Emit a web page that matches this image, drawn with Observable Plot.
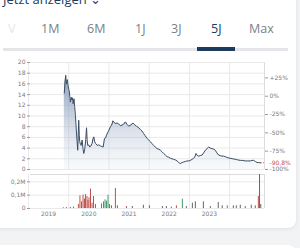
<!DOCTYPE html>
<html><head><meta charset="utf-8">
<script src="https://cdn.jsdelivr.net/npm/d3@7"></script>
<script src="https://cdn.jsdelivr.net/npm/@observablehq/plot@0.6"></script>
<style>
html,body{margin:0;padding:0;width:300px;height:248px;overflow:hidden;background:#f2f3f5;font-family:"Open Sans",sans-serif;}
#card{position:absolute;left:-10px;top:-10px;width:306px;height:238px;background:#fff;border-radius:8px;box-shadow:0 1px 4px rgba(0,0,0,0.08);}
#card2{position:absolute;left:-10px;top:245px;width:306px;height:40px;background:#fff;border-radius:8px;}
#head{position:absolute;left:3px;top:-10px;font-size:13px;color:#1d3a5f;white-space:nowrap;}
.tab{position:absolute;top:20px;font-size:12.5px;color:#7b8089;white-space:nowrap;}
#bar{position:absolute;left:3px;top:48px;width:285px;height:2.5px;background:#e3e5e8;}
#sel{position:absolute;left:197px;top:47px;width:38px;height:4px;background:#1d3a5f;}
#p1{position:absolute;left:0;top:55px;}
#p2{position:absolute;left:0;top:170px;}
svg{display:block;}
</style></head>
<body>
<div id="card"></div><div id="card2"></div>
<div id="head">Jetzt anzeigen ⌄</div>
<div id="tabs"></div>
<div id="bar"></div><div id="sel"></div>
<div id="p1"></div><div id="p2"></div>
<script>
// ---- tabs ----
const tabLabels = ["V","1M","6M","1J","3J","5J","Max"];
const tabSelected = "5J";
// ---- price series ----
const priceDates = ["2019-11-22","2019-11-28","2019-12-05","2019-12-09","2019-12-12","2019-12-19","2019-12-27","2020-01-03","2020-01-07","2020-01-12","2020-01-16","2020-01-24","2020-01-31","2020-02-05","2020-02-10","2020-02-18","2020-02-24","2020-03-02","2020-03-11","2020-03-17","2020-03-23","2020-03-28","2020-04-01","2020-04-06","2020-04-10","2020-04-17","2020-04-23","2020-05-02","2020-05-10","2020-05-17","2020-05-26","2020-06-04","2020-06-11","2020-06-16","2020-06-22","2020-07-01","2020-07-10","2020-07-20","2020-08-01","2020-08-08","2020-08-16","2020-08-24","2020-08-31","2020-09-16","2020-09-30","2020-10-16","2020-10-28","2020-11-09","2020-11-21","2020-12-01","2020-12-09","2020-12-20","2020-12-30","2021-01-14","2021-01-25","2021-02-06","2021-02-16","2021-02-28","2021-03-15","2021-03-30","2021-04-15","2021-04-30","2021-05-15","2021-05-30","2021-06-15","2021-06-29","2021-07-18","2021-08-06","2021-08-20","2021-09-07","2021-09-22","2021-10-13","2021-10-28","2021-11-12","2021-11-26","2021-12-13","2021-12-28","2022-01-12","2022-01-28","2022-02-11","2022-02-25","2022-03-14","2022-03-29","2022-04-13","2022-04-28","2022-05-12","2022-05-28","2022-06-12","2022-06-27","2022-07-12","2022-07-27","2022-08-11","2022-08-26","2022-09-11","2022-09-26","2022-10-11","2022-10-26","2022-11-10","2022-11-25","2022-12-11","2022-12-26","2023-01-10","2023-01-25","2023-02-09","2023-02-20","2023-03-02","2023-03-14","2023-03-26","2023-04-10","2023-04-26","2023-05-10","2023-05-26","2023-06-10","2023-06-25","2023-07-10","2023-07-25","2023-08-10","2023-08-24","2023-09-08","2023-09-23","2023-10-08","2023-10-24","2023-11-08","2023-11-23","2023-12-15","2024-01-07","2024-01-30","2024-02-22","2024-03-15","2024-04-07","2024-04-30","2024-05-22","2024-06-15","2024-07-07","2024-07-22","2024-08-06","2024-08-22","2024-09-06","2024-09-20","2024-10-05"];
const priceValues = [14.3,16.2,17.6,16.4,16.0,16.8,15.6,14.9,14.5,13.4,12.6,13.5,13.0,13.4,12.3,13.2,11.8,10.1,7.0,5.2,3.6,6.8,9.2,6.4,5.2,4.7,4.5,5.5,3.8,3.0,3.9,5.6,7.8,5.6,4.5,4.6,4.2,4.4,4.9,5.7,6.1,5.2,4.9,4.5,4.6,4.4,4.3,4.2,5.8,5.9,6.4,6.9,7.3,8.0,8.3,9.1,8.8,8.6,8.7,8.5,8.2,8.3,8.5,8.9,8.4,8.1,8.3,8.7,8.4,8.1,7.9,7.5,7.2,6.7,6.3,5.8,5.5,5.2,4.8,4.5,4.2,3.9,3.8,3.6,3.3,3.0,2.7,2.4,2.3,2.1,2.0,1.9,1.8,1.6,1.3,1.1,1.3,1.4,1.5,1.6,1.6,1.7,1.9,2.1,2.4,3.0,2.6,2.5,2.6,2.7,3.1,3.6,3.9,4.2,4.0,3.9,3.8,3.6,3.1,2.7,2.6,2.5,2.5,2.4,2.2,2.1,2.0,1.9,1.8,1.7,1.7,1.6,1.6,1.6,1.7,1.7,1.5,1.3,1.3,1.26];
const priceTicks = [0,2,4,6,8,10,12,14,16,18,20];
const refPrice = 13.7;
const pctTicks = [25,0,-25,-50,-75,-100];
const lastPctLabel = "-90,8%";
// ---- volume series ----
const volDates = ["2019-11-13","2019-12-11","2020-01-16","2020-02-13","2020-03-29","2020-04-12","2020-04-26","2020-05-10","2020-05-23","2020-06-01","2020-06-15","2020-06-24","2020-07-03","2020-07-17","2020-07-31","2020-08-13","2020-08-31","2020-10-25","2020-11-12","2020-11-26","2020-12-09","2020-12-23","2021-01-05","2021-01-23","2021-02-28","2021-03-18","2021-06-08","2021-08-01","2021-11-09","2022-01-03","2022-05-01","2022-06-06","2022-07-21","2022-09-05","2022-10-29","2022-12-04","2023-01-28","2023-02-24","2023-05-08","2023-07-10","2023-09-20","2023-10-26","2023-12-11","2024-02-04","2024-03-02","2024-04-07","2024-05-22","2024-07-16","2024-08-21","2024-09-18","2024-09-29","2024-10-10"];
const volValues = [0.005,0.006,0.008,0.01,0.03,0.095,0.05,0.1,0.07,0.105,0.09,0.06,0.08,0.145,0.04,0.09,0.03,0.035,0.05,0.065,0.055,0.1,0.03,0.02,0.15,0.02,0.015,0.015,0.025,0.02,0.015,0.015,0.01,0.02,0.07,0.015,0.04,0.05,0.05,0.015,0.045,0.02,0.02,0.02,0.02,0.025,0.015,0.025,0.02,0.09,0.255,0.03];
const volSides = ["n","n","n","n","r","r","r","r","r","r","r","r","r","r","r","r","r","g","g","g","g","g","r","n","r","n","r","n","n","n","n","n","n","r","g","n","n","n","n","n","n","n","r","n","n","n","n","n","n","r","n","n"];
const volTicks = [0,100000,200000];
const years = [2019,2020,2021,2022,2023];

const sideColor = {r:"#c0504d", g:"#3f9a6c", n:"#6e6262"};
const price = priceDates.map((d,i)=>({date:new Date(d), price:priceValues[i]}));
const vol = volDates.map((d,i)=>({date:new Date(d), vol:volValues[i]*1e6, color:sideColor[volSides[i]]}));
const xDomain = [new Date("2019-01-19"), new Date("2024-11-13")];
const yearStarts = [...years, 2024].map(y=>new Date(Date.UTC(y,0,1)));
const yearMids = years.map(y=>new Date(Date.UTC(y,6,2)));
const last = price[price.length-1];

// tabs
const tabX = [8,41,87,135,171,211,249];
tabLabels.forEach((t,i)=>{
  const el = document.createElement("div");
  el.className="tab"; el.textContent=t; el.style.left=tabX[i]+"px";
  if (t===tabSelected) el.style.color="#1d3a5f";
  if (i===0) el.style.color="#e4e6ea";
  document.getElementById("tabs").appendChild(el);
});

const font = {fontFamily:"DejaVu Sans", fontSize:"6px", color:"#7a7a7a", background:"transparent", overflow:"visible"};

const p1 = Plot.plot({
  width:300, height:118, marginLeft:30, marginRight:36, marginTop:7, marginBottom:4,
  style:font,
  x:{type:"utc", domain:xDomain, axis:null},
  y:{domain:[0,20], axis:null},
  marks:[
    Plot.gridY(priceTicks, {stroke:"#e9e9e9", strokeOpacity:1}),
    Plot.gridX(yearStarts, {stroke:"#e9e9e9", strokeOpacity:1}),
    Plot.areaY(price, {x:"date", y:"price", fill:"url(#pgrad)"}),
    Plot.lineY(price, {x:"date", y:"price", stroke:"#3b4d63", strokeWidth:1}),
    Plot.ruleY([last], {y:"price", x1:"date", x2:()=>xDomain[1], stroke:"#c0504d", strokeDasharray:"2,1.5"}),
    Plot.axisY(priceTicks, {anchor:"left", label:null, tickSize:3, tickPadding:2, stroke:"#999", fill:"#7a7a7a"}),
    Plot.axisY(pctTicks.map(p=>refPrice*(1+p/100)), {anchor:"right", label:null, tickSize:3, tickPadding:2, stroke:"#999", fill:"#7a7a7a",
      tickFormat:d=>{const p=Math.round((d/refPrice-1)*100); return (p>0?"+":"")+p+"%";}}),
    Plot.text([last], {y:"price", text:()=>lastPctLabel, frameAnchor:"right", textAnchor:"start", dx:5, fill:"#c0504d"}),
    Plot.ruleX([xDomain[1]], {stroke:"#dcdcdc"})
  ]
});
// gradient defs
const ns="http://www.w3.org/2000/svg";
const defs=document.createElementNS(ns,"defs");
defs.innerHTML='<linearGradient id="pgrad" x1="0" y1="0" x2="0" y2="1"><stop offset="0" stop-color="rgb(96,122,158)" stop-opacity="0.75"/><stop offset="1" stop-color="rgb(200,212,228)" stop-opacity="0.12"/></linearGradient>';
p1.insertBefore(defs, p1.firstChild);
document.getElementById("p1").appendChild(p1);

const p2 = Plot.plot({
  width:300, height:50, marginLeft:30, marginRight:36, marginTop:4, marginBottom:12,
  style:font,
  x:{type:"utc", domain:xDomain, axis:null},
  y:{domain:[0,255000], axis:null},
  color:{type:"identity"},
  marks:[
    Plot.gridY(volTicks, {stroke:"#e9e9e9", strokeOpacity:1}),
    Plot.gridX(yearStarts, {stroke:"#e9e9e9", strokeOpacity:1}),
    Plot.ruleY([255000], {stroke:"#dcdcdc"}),
    Plot.ruleX([xDomain[1]], {stroke:"#dcdcdc"}),
    Plot.ruleX(vol, {x:"date", y1:0, y2:"vol", stroke:"color", strokeWidth:1}),
    Plot.axisY(volTicks, {anchor:"left", label:null, tickSize:3, tickPadding:2, stroke:"#999", fill:"#7a7a7a",
      tickFormat:d=>d===0?"0":String(d/1e6).replace(".",",")+"M"}),
    Plot.axisX(yearMids, {anchor:"bottom", label:null, tickSize:0, tickPadding:3, tickFormat:d=>String(d.getUTCFullYear()), fill:"#7a7a7a"})
  ]
});
document.getElementById("p2").appendChild(p2);
</script>
</body></html>
